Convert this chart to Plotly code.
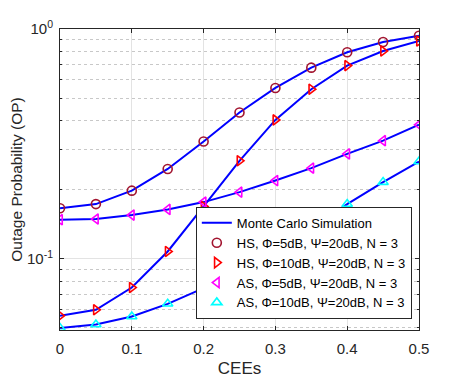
import numpy as np
import plotly.graph_objects as go

# CEE values on the x axis
cees = [0, 0.05, 0.1, 0.15, 0.2, 0.25, 0.3, 0.35, 0.4, 0.45, 0.5]

# outage probability
hs_5db = [0.166, 0.173, 0.198, 0.246, 0.324, 0.433, 0.554, 0.679, 0.792, 0.878, 0.935]
hs_10db = [0.0565, 0.060, 0.075, 0.1076, 0.169, 0.267, 0.402, 0.547, 0.693, 0.802, 0.887]
as_5db = [0.148, 0.149, 0.155, 0.164, 0.1765, 0.195, 0.219, 0.248, 0.286, 0.3266, 0.383]
as_10db = [0.050, 0.0518, 0.0561, 0.0637, 0.0745, 0.088, 0.107, 0.136, 0.173, 0.2156, 0.265]

series = [
    ("HS, \u03a6=5dB, \u03a8=20dB, N = 3", hs_5db, "circle-open", "#A2142F"),
    ("HS, \u03a6=10dB, \u03a8=20dB, N = 3", hs_10db, "triangle-right-open", "#FF0000"),
    ("AS, \u03a6=5dB, \u03a8=20dB, N = 3", as_5db, "triangle-left-open", "#FF00FF"),
    ("AS, \u03a6=10dB, \u03a8=20dB, N = 3", as_10db, "triangle-up-open", "#00FFFF"),
]

minor_vals = [0.05, 0.06, 0.07, 0.08, 0.09, 0.2, 0.3, 0.4, 0.5, 0.6, 0.7, 0.8, 0.9]

fig = go.Figure()

# simulation curves (blue lines), only the first one goes in the legend
for i, (name, vals, sym, col) in enumerate(series):
    fig.add_trace(go.Scatter(
        x=cees, y=vals, mode="lines",
        line=dict(color="#0000FF", width=2),
        name="Monte Carlo Simulation", showlegend=(i == 0),
    ))

# analytical markers
for name, vals, sym, col in series:
    fig.add_trace(go.Scatter(
        x=cees, y=vals, mode="markers", name=name,
        marker=dict(symbol=sym, size=9, color=col, line=dict(width=1.6, color=col)),
    ))

font = "Liberation Sans, Arial, sans-serif"

# page body adds 8px, so margins are offset for it
fig.update_layout(
    width=463, height=382,
    margin=dict(l=52, r=52, t=21, b=60),
    paper_bgcolor="white", plot_bgcolor="white",
    font=dict(family=font, size=14, color="#262626"),
    showlegend=True,
    legend=dict(
        x=0.98, y=0.037, xanchor="right", yanchor="bottom",
        bgcolor="white", bordercolor="#262626", borderwidth=1,
        font=dict(size=13, color="#000000"), itemwidth=30,
        tracegroupgap=0,
    ),
)

fig.update_xaxes(
    range=[0, 0.5], tickvals=[0, 0.1, 0.2, 0.3, 0.4, 0.5],
    ticktext=["0", "0.1", "0.2", "0.3", "0.4", "0.5"],
    tickfont=dict(size=15), ticklabelstandoff=5,
    showgrid=True, gridcolor="#E3E3E3", gridwidth=1,
    showline=True, linecolor="#262626", linewidth=1, mirror="ticks",
    ticks="inside", ticklen=4, tickcolor="#262626",
    zeroline=False, automargin=False,
    title=dict(text="CEEs", font=dict(size=17), standoff=6),
)

fig.update_yaxes(
    type="log", range=[np.log10(0.049), 0],
    tickvals=[0.1, 1], ticktext=["10<sup>-1</sup>", "10<sup>0</sup>"],
    tickfont=dict(size=15), ticklabelstandoff=3,
    showgrid=True, gridcolor="#E3E3E3", gridwidth=1,
    showline=True, linecolor="#262626", linewidth=1, mirror="ticks",
    ticks="inside", ticklen=4, tickcolor="#262626",
    minor=dict(tickvals=minor_vals, showgrid=True, griddash="dot",
               gridcolor="#C8C8C8", ticks="inside", ticklen=2, tickcolor="#262626"),
    zeroline=False, automargin=False,
    title=dict(text="Outage Probability (OP)", font=dict(size=15.5), standoff=2),
)

fig.write_html("out.html")
